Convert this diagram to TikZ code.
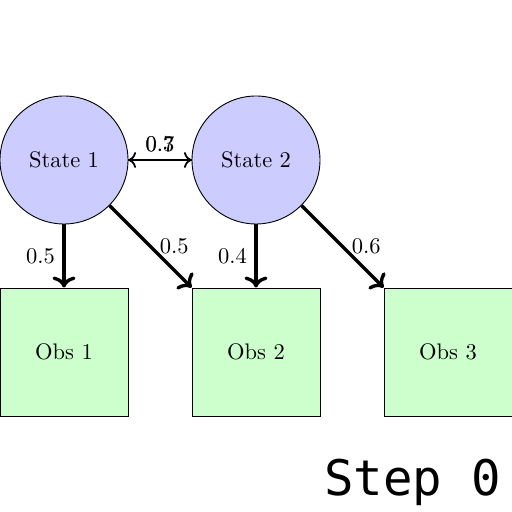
\documentclass[tikz,border=0pt]{standalone}
\usepackage{fontspec}
\setmonofont{DejaVu Sans Mono}
\usepackage{tikz}
\usetikzlibrary{arrows.meta}

\begin{document}
\begin{tikzpicture}[
        state/.style={circle, draw, fill=blue!20, minimum size=2cm, inner sep=0pt},
        obs/.style={rectangle, draw, fill=green!20, minimum size=2cm, inner sep=0pt},
        trans/.style={->, thick},
        emit/.style={->, line width=1.5pt}
    ]
        \useasboundingbox (0,0) rectangle (8,8);

        % Etats caches
        \node[state] (s1) at (1,5.5) {State 1};
        \node[state] (s2) at (4,5.5) {State 2};

        % Observations
        \node[obs] (o1) at (1,2.5) {Obs 1};
        \node[obs] (o2) at (4,2.5) {Obs 2};
        \node[obs] (o3) at (7,2.5) {Obs 3};

        % Transitions
        \draw[trans] (s1) -- (s2) node[midway, above] {0.3};
        \draw[trans] (s2) -- (s1) node[midway, above] {0.7};

        % Emissions
        \draw[emit] (s1) -- (o1) node[midway, left] {0.5};
        \draw[emit] (s1) -- (o2) node[midway, right] {0.5};
        \draw[emit] (s2) -- (o2) node[midway, left] {0.4};
        \draw[emit] (s2) -- (o3) node[midway, right] {0.6};

        % Etape
        \node[anchor=base] (step) at (6.45,0.26) {\fontsize{21.8}{26}\selectfont\ttfamily Step 0};
    \end{tikzpicture}
\end{document}
